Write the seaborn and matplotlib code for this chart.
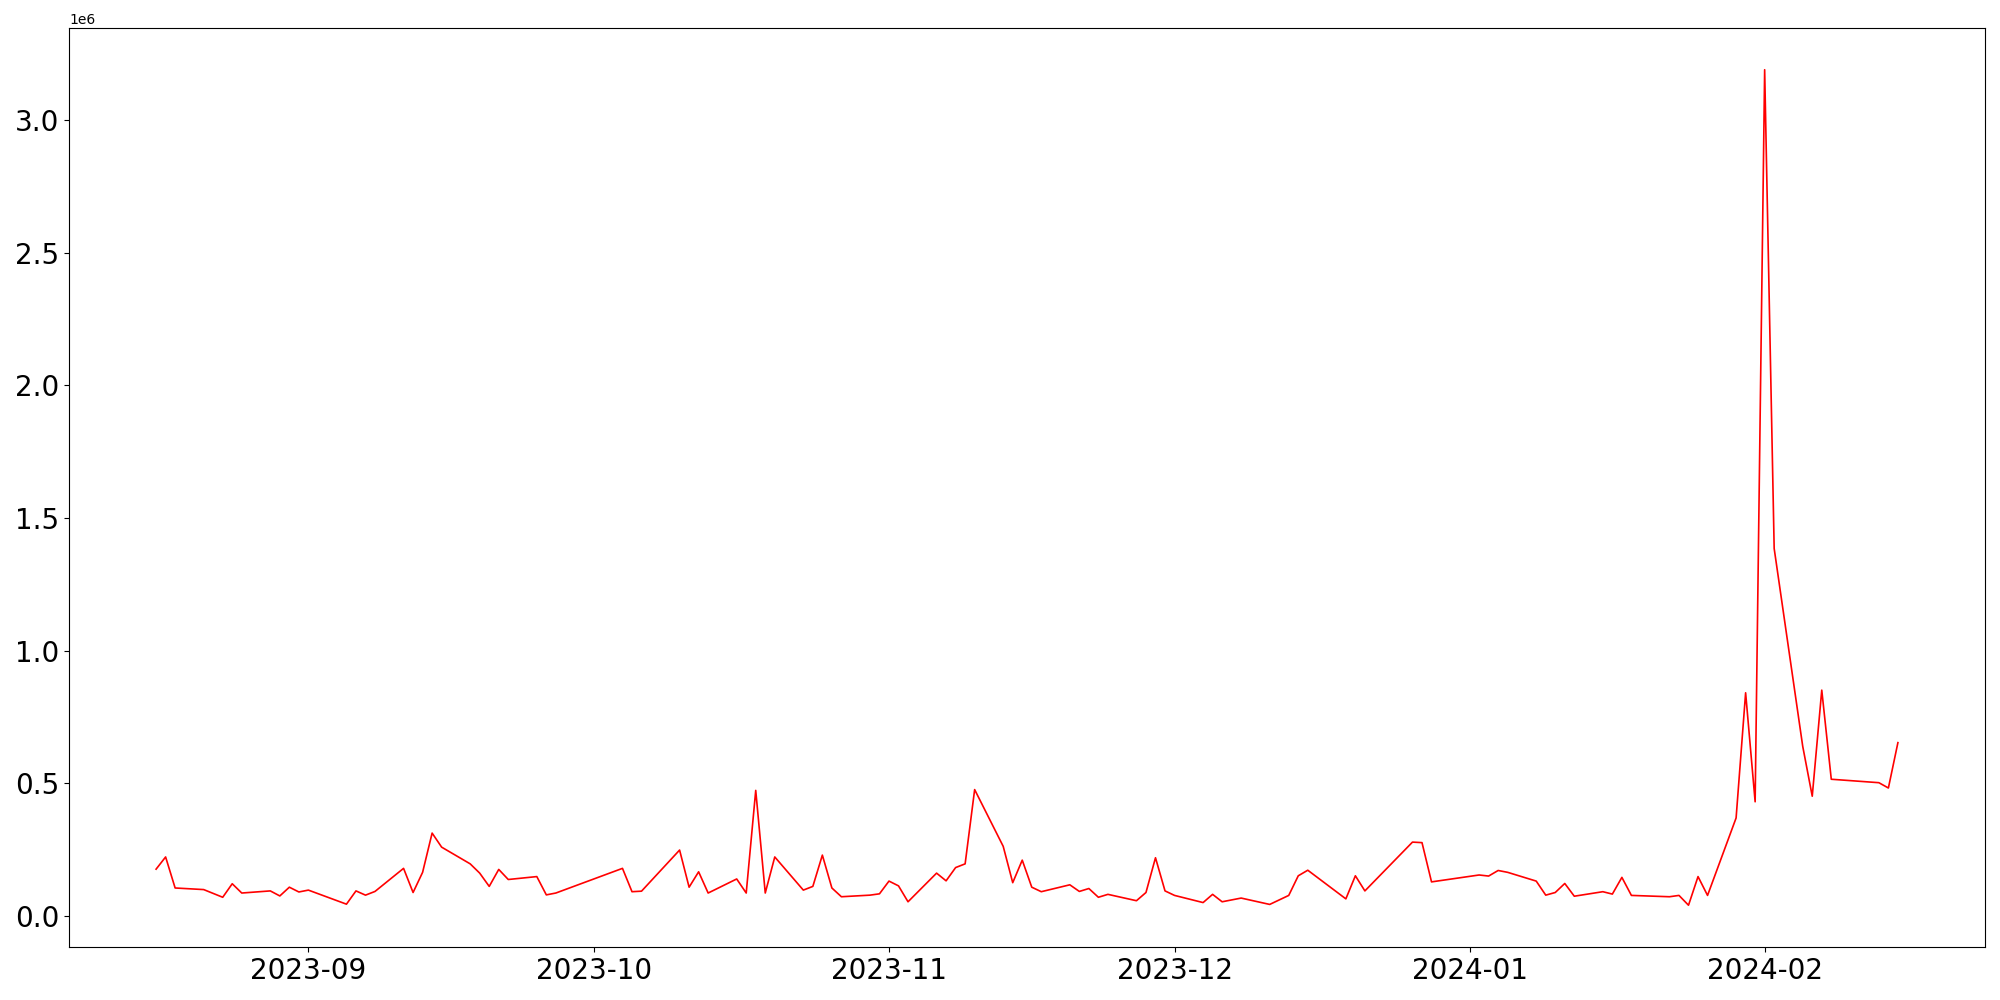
import matplotlib
matplotlib.use("Agg")
import matplotlib.pyplot as plt
import seaborn as sns
import pandas as pd

dates = [
    "2023-08-16", "2023-08-17", "2023-08-18", "2023-08-21", "2023-08-23", "2023-08-24",
    "2023-08-25", "2023-08-28", "2023-08-29", "2023-08-30", "2023-08-31", "2023-09-01",
    "2023-09-05", "2023-09-06", "2023-09-07", "2023-09-08", "2023-09-11", "2023-09-12",
    "2023-09-13", "2023-09-14", "2023-09-15", "2023-09-18", "2023-09-19", "2023-09-20",
    "2023-09-21", "2023-09-22", "2023-09-25", "2023-09-26", "2023-09-27", "2023-10-04",
    "2023-10-05", "2023-10-06", "2023-10-10", "2023-10-11", "2023-10-12", "2023-10-13",
    "2023-10-16", "2023-10-17", "2023-10-18", "2023-10-19", "2023-10-20", "2023-10-23",
    "2023-10-24", "2023-10-25", "2023-10-26", "2023-10-27", "2023-10-30", "2023-10-31",
    "2023-11-01", "2023-11-02", "2023-11-03", "2023-11-06", "2023-11-07", "2023-11-08",
    "2023-11-09", "2023-11-10", "2023-11-13", "2023-11-14", "2023-11-15", "2023-11-16",
    "2023-11-17", "2023-11-20", "2023-11-21", "2023-11-22", "2023-11-23", "2023-11-24",
    "2023-11-27", "2023-11-28", "2023-11-29", "2023-11-30", "2023-12-01", "2023-12-04",
    "2023-12-05", "2023-12-06", "2023-12-08", "2023-12-11", "2023-12-13", "2023-12-14",
    "2023-12-15", "2023-12-19", "2023-12-20", "2023-12-21", "2023-12-26", "2023-12-27",
    "2023-12-28", "2024-01-02", "2024-01-03", "2024-01-04", "2024-01-05", "2024-01-08",
    "2024-01-09", "2024-01-10", "2024-01-11", "2024-01-12", "2024-01-15", "2024-01-16",
    "2024-01-17", "2024-01-18", "2024-01-22", "2024-01-23", "2024-01-24", "2024-01-25",
    "2024-01-26", "2024-01-29", "2024-01-30", "2024-01-31", "2024-02-01", "2024-02-02",
    "2024-02-05", "2024-02-06", "2024-02-07", "2024-02-08", "2024-02-13", "2024-02-14",
    "2024-02-15",
]

values = [
    176000, 222000, 105000, 99000, 70000, 121000,
    86000, 94000, 75000, 108000, 90000, 97000,
    44000, 94000, 78000, 92000, 179000, 88000,
    164000, 312000, 259000, 196000, 161000, 111000,
    175000, 137000, 148000, 79000, 86000, 179000,
    91000, 93000, 248000, 108000, 166000, 86000,
    139000, 86000, 473000, 86000, 222000, 97000,
    111000, 229000, 105000, 72000, 78000, 83000,
    131000, 113000, 53000, 161000, 132000, 182000,
    196000, 476000, 262000, 125000, 210000, 108000,
    91000, 117000, 92000, 103000, 70000, 81000,
    57000, 88000, 219000, 94000, 77000, 50000,
    81000, 53000, 67000, 43000, 77000, 151000,
    172000, 64000, 151000, 94000, 278000, 276000,
    128000, 154000, 150000, 171000, 164000, 131000,
    78000, 88000, 122000, 74000, 91000, 82000,
    145000, 77000, 72000, 77000, 40000, 148000,
    77000, 369000, 841000, 430000, 3190000, 1385000,
    639000, 451000, 851000, 515000, 502000, 482000,
    653000,
]

df = pd.DataFrame({"date": pd.to_datetime(dates), "value": values})

fig, ax = plt.subplots(figsize=(20, 10), dpi=100)
fig.subplots_adjust(left=0.0345, right=0.9925, top=0.972, bottom=0.053)

sns.lineplot(data=df, x="date", y="value", color="red", linewidth=1.2, ax=ax)

ax.set_xlabel("")
ax.set_ylabel("")
ax.tick_params(axis="both", labelsize=20)

fig.savefig("out.png", dpi=100)
